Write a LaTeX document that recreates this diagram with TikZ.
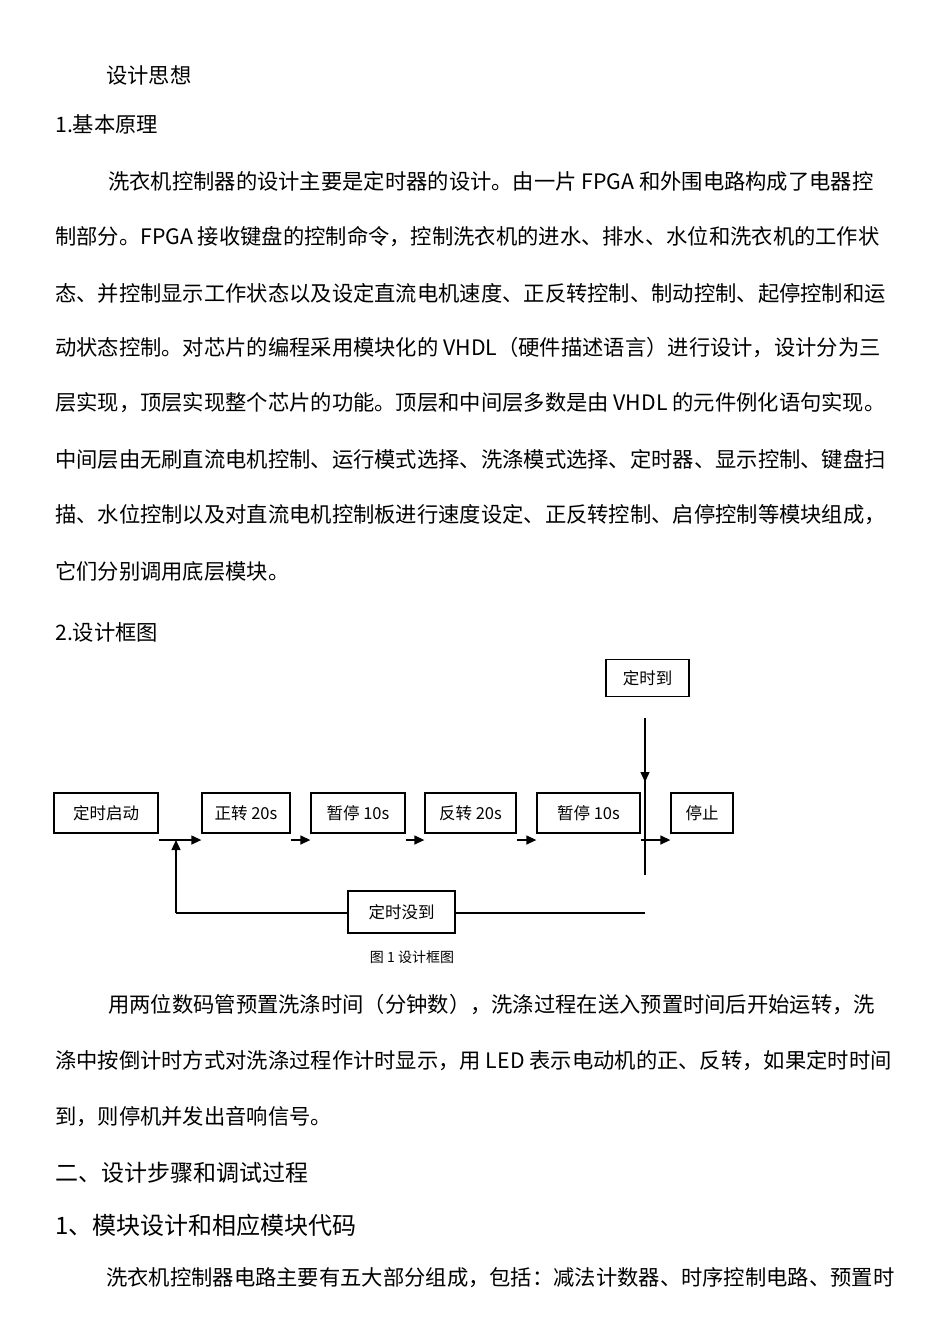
\documentclass[tikz,border=0pt]{standalone}
\usepackage{fontspec}
\setmainfont{Noto Sans CJK SC}
\usetikzlibrary{arrows.meta}
\begin{document}
\begin{tikzpicture}[x=1pt,y=-1pt,
  tl/.style={anchor=west,inner sep=0pt,font=\fontsize{21.3}{24}\selectfont},
  bx/.style={draw,line width=1.3pt,inner sep=0pt,font=\fontsize{16.5}{19}\selectfont},
  ar/.style={line width=1.3pt,-{Triangle[length=10pt,width=9pt]}},
  ln/.style={line width=1.3pt}]
\useasboundingbox[fill=white] (0,0) rectangle (950,1344);
\node[tl] (t1) at (106,75) {设计思想};
\node[tl] (t2) at (55,124) {1.基本原理};
\node[tl] (p1) at (108,181) {洗衣机控制器的设计主要是定时器的设计。由一片 FPGA 和外围电路构成了电器控};
\node[tl] (p2) at (55,237) {制部分。FPGA 接收键盘的控制命令，控制洗衣机的进水、排水、水位和洗衣机的工作状};
\node[tl] (p3) at (55,293) {态、并控制显示工作状态以及设定直流电机速度、正反转控制、制动控制、起停控制和运};
\node[tl] (p4) at (55,348) {动状态控制。对芯片的编程采用模块化的 VHDL（硬件描述语言）进行设计，设计分为三};
\node[tl] (p5) at (55,403) {层实现，顶层实现整个芯片的功能。顶层和中间层多数是由 VHDL 的元件例化语句实现。};
\node[tl] (p6) at (55,459) {中间层由无刷直流电机控制、运行模式选择、洗涤模式选择、定时器、显示控制、键盘扫};
\node[tl] (p7) at (55,515) {描、水位控制以及对直流电机控制板进行速度设定、正反转控制、启停控制等模块组成，};
\node[tl] (p8) at (55,571) {它们分别调用底层模块。};
\node[tl] (t3) at (55,632) {2.设计框图};
% diagram
\node[bx,minimum width=104,minimum height=40] (a) at (106,813) {定时启动};
\node[bx,minimum width=88,minimum height=40] (b) at (246,813) {正转 20s};
\node[bx,minimum width=94,minimum height=40] (c) at (358,813) {暂停 10s};
\node[bx,minimum width=91,minimum height=40] (d) at (470.5,813) {反转 20s};
\node[bx,minimum width=103,minimum height=40] (e) at (588.5,813) {暂停 10s};
\node[bx,minimum width=62,minimum height=40] (f) at (702,813) {停止};
\node[bx,minimum width=83,minimum height=37] (g) at (647.5,678) {定时到};
\node[bx,minimum width=107,minimum height=42] (h) at (401.5,912) {定时没到};
\coordinate (j) at (176,840);
\coordinate (k) at (176,913);
\coordinate (m) at (645,913);
\draw[ar] (a.south east |- j) -- (b.south west |- j);
\draw[ar] (b.south east |- j) -- (c.south west |- j);
\draw[ar] (c.south east |- j) -- (d.south west |- j);
\draw[ar] (d.south east |- j) -- (e.south west |- j);
\draw[ar] (e.south east |- j) -- (f.south west |- j);
\draw[ar] (k) -- (j);
\draw[ln] (h.west |- k) -- (k);
\draw[ln] (h.east |- m) -- (m);
\draw[ln] (645,766) -- (645,875);
\draw[ar] (645,718) -- (645,782);
\node[inner sep=0pt,font=\fontsize{14}{16}\selectfont] (cap) at (412,957) {图 1 设计框图};
\node[tl] (q1) at (108,1005) {用两位数码管预置洗涤时间（分钟数），洗涤过程在送入预置时间后开始运转，洗};
\node[tl] (q2) at (55,1061) {涤中按倒计时方式对洗涤过程作计时显示，用 LED 表示电动机的正、反转，如果定时时间};
\node[tl] (q3) at (55,1117) {到，则停机并发出音响信号。};
\node[tl,font=\fontsize{23}{26}\selectfont] (t4) at (55,1173) {二、设计步骤和调试过程};
\node[tl,font=\fontsize{24}{27}\selectfont] (t5) at (55,1225) {1、模块设计和相应模块代码};
\node[tl] (q4) at (106,1278) {洗衣机控制器电路主要有五大部分组成，包括：减法计数器、时序控制电路、预置时};
\end{tikzpicture}
\end{document}
